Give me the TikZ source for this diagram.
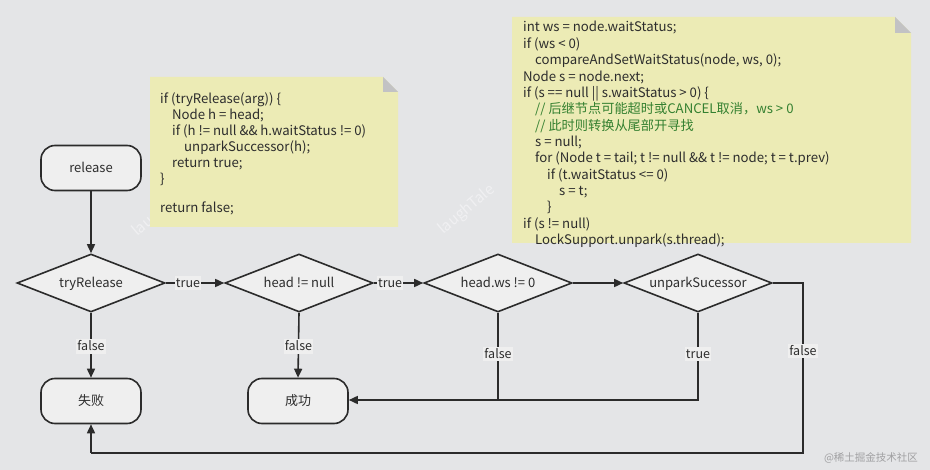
\documentclass[tikz,border=0pt]{standalone}
\usepackage{fontspec}
\setmainfont{Noto Sans CJK SC}
\usetikzlibrary{shapes.geometric,arrows.meta}

\definecolor{canvas}{RGB}{228,229,231}
\definecolor{boxfill}{RGB}{239,239,239}
\definecolor{ink}{RGB}{43,43,43}
\definecolor{txt}{RGB}{45,45,45}
\definecolor{notefill}{RGB}{236,235,181}
\definecolor{foldgray}{RGB}{194,194,196}
\definecolor{cmt}{RGB}{52,128,48}
\definecolor{wmark}{RGB}{240,240,242}
\definecolor{sitemark}{RGB}{160,160,162}

\tikzset{
  terminal/.style={draw=ink, line width=1.6pt, fill=boxfill, rounded corners=14pt,
    minimum width=100pt, minimum height=45pt, text=txt,
    text height=11.5pt, text depth=1.5pt,
    font=\fontsize{13}{15}\selectfont},
  decision/.style={draw=ink, line width=1.6pt, fill=boxfill, diamond, aspect=2.6,
    inner sep=0pt, minimum width=148pt, minimum height=58pt, text=txt,
    text height=11.5pt, text depth=1.5pt,
    font=\fontsize{13}{15}\selectfont},
  flow/.style={draw=ink, line width=1.6pt, -{Triangle[length=9pt,width=8pt]}},
  plain/.style={draw=ink, line width=1.6pt},
  lbl/.style={fill=boxfill, inner sep=1pt, text=txt, text height=10.5pt, text depth=2pt,
    font=\fontsize{12.5}{14}\selectfont},
  code/.style={anchor=base west, inner sep=0pt, text=txt, text height=10pt, text depth=3pt,
    font=\fontsize{13.2}{15}\selectfont},
  comment/.style={code, text=cmt},
  note/.style={fill=notefill},
  fold/.style={fill=foldgray},
  stamp/.style={text=wmark, rotate=40, inner sep=0pt, font=\fontsize{15}{17}\selectfont},
}

\begin{document}
\begin{tikzpicture}[x=1pt,y=-1pt]
  % canvas
  \fill[canvas] (0,0) rectangle (930,470);
  \useasboundingbox (0,0) rectangle (930,470);

  % faint author stamps (the first one runs under the note)
  \begin{scope}
    \clip (120,180) rectangle (150,250);
    \node[stamp] (wm1) at (161,212) {laughTale};
  \end{scope}
  \node[stamp] (wm2) at (467,210) {laughTale};

  % ---------- note: release() ----------
  \fill[note] (150,77) -- (383,77) -- (398,92) -- (398,227) -- (150,227) -- cycle;
  \fill[fold] (383,77) -- (398,92) -- (383,92) -- cycle;
  \node[code] (ra1) at (160,103.5) {if (tryRelease(arg)) \{};
  \node[code] (ra2) at (172,119.5) {Node h = head;};
  \node[code] (ra3) at (172,135.5) {if (h != null \&\& h.waitStatus != 0)};
  \node[code] (ra4) at (184,151.5) {unparkSuccessor(h);};
  \node[code] (ra5) at (172,167.5) {return true;};
  \node[code] (ra6) at (160,183.5) {\}};
  \node[code] (ra7) at (160,212.5) {return false;};

  % ---------- note: unparkSuccessor() ----------
  \fill[note] (512,17) -- (895,17) -- (911,33) -- (911,243) -- (512,243) -- cycle;
  \fill[fold] (895,17) -- (911,33) -- (895,33) -- cycle;
  \node[code]    (us1)  at (523,32.0)  {int ws = node.waitStatus;};
  \node[code]    (us2)  at (523,48.4)  {if (ws < 0)};
  \node[code]    (us3)  at (535,64.7)  {compareAndSetWaitStatus(node, ws, 0);};
  \node[code]    (us4)  at (523,81.1)  {Node s = node.next;};
  \node[code]    (us5)  at (523,97.4)  {if (s == null || s.waitStatus > 0) \{};
  \node[comment] (us6)  at (535,113.8) {// 后继节点可能超时或CANCEL取消，ws > 0};
  \node[comment] (us7)  at (535,130.1) {// 此时则转换从尾部开寻找};
  \node[code]    (us8)  at (535,146.5) {s = null;};
  \node[code]    (us9)  at (535,162.8) {for (Node t = tail; t != null \&\& t != node; t = t.prev)};
  \node[code]    (us10) at (547,179.2) {if (t.waitStatus <= 0)};
  \node[code]    (us11) at (559,195.5) {s = t;};
  \node[code]    (us12) at (547,211.9) {\}};
  \node[code]    (us13) at (523,228.2) {if (s != null)};
  \node[code]    (us14) at (535,244.2) {LockSupport.unpark(s.thread);};

  % ---------- flow nodes ----------
  \node[terminal] (release) at (91,168)  {release};
  \node[decision] (try)     at (91,283)  {tryRelease};
  \node[decision] (headnn)  at (299,283) {head != null};
  \node[decision] (headws)  at (498,283) {head.ws != 0};
  \node[decision] (unpark)  at (698,283) {unparkSucessor};
  \node[terminal] (fail)    at (91,401)  {失败};
  \node[terminal] (ok)      at (298,401) {成功};

  % bend points of the return lines
  \coordinate (wsdown) at (498,400);
  \coordinate (updown) at (698,400);
  \coordinate (upright) at (803,283);
  \coordinate (upfar) at (803,453);
  \coordinate (failbelow) at (91,453);

  % ---------- connectors ----------
  \draw[flow] (release) -- (try);
  \draw[flow] (try.east) -- node[lbl, pos=0.38] {true} (headnn.west);
  \draw[flow] (headnn.east) -- node[lbl, pos=0.33] {true} (headws.west);
  \draw[flow] (headws.east) -- (unpark.west);
  \draw[flow] (try.south) -- node[lbl, pos=0.52] {false} (fail.north);
  \draw[flow] (headnn.south) -- node[lbl, pos=0.52] {false} (ok.north);
  \draw[plain] (headws.south) -- node[lbl, pos=0.47] {false} (wsdown);
  \draw[flow] (wsdown) -- (ok.east |- wsdown);
  \draw[plain] (unpark.south) -- node[lbl, pos=0.47] {true} (updown) -- (wsdown);
  \draw[plain] (unpark.east) -- (upright) -- node[lbl, pos=0.4] {false} (upfar) -- (failbelow);
  \draw[flow] (failbelow) -- (fail.south);

  % site stamp
  \node[text=sitemark, font=\fontsize{10.5}{12}\selectfont] (site) at (871,458) {@稀土掘金技术社区};
\end{tikzpicture}
\end{document}
